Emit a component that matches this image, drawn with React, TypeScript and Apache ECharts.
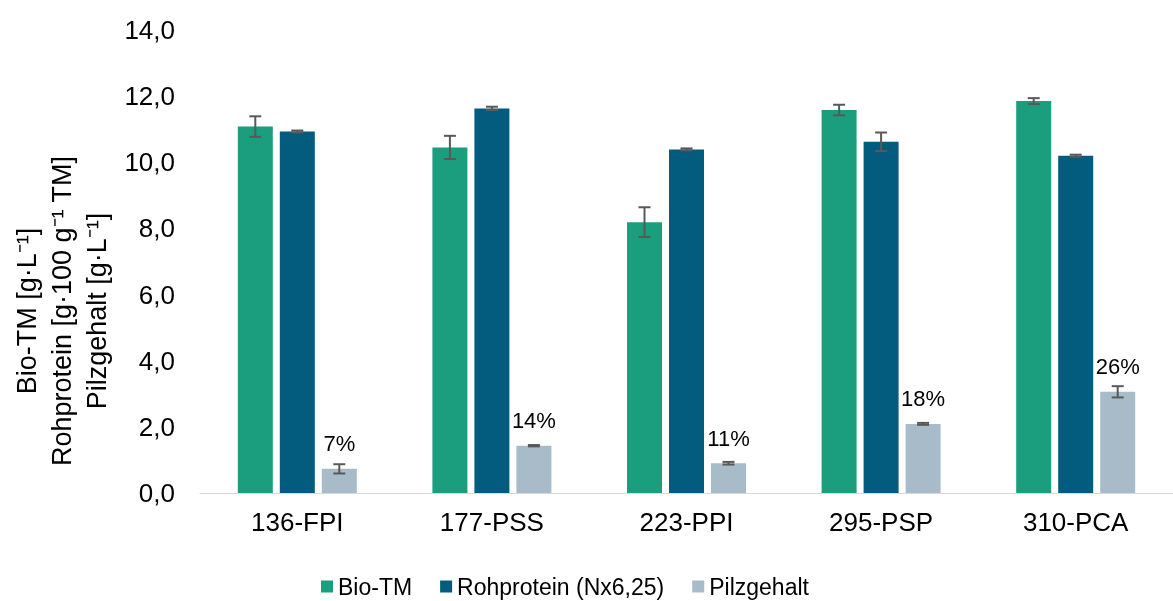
import React, { useEffect, useRef } from "react";
import * as echarts from "echarts";

const categories = ["136-FPI", "177-PSS", "223-PPI", "295-PSP", "310-PCA"];
const yTickLabels = ["0,0", "2,0", "4,0", "6,0", "8,0", "10,0", "12,0", "14,0"];
const bioTM = [11.08, 10.45, 8.19, 11.58, 11.85];
const bioTMErr = [0.31, 0.35, 0.45, 0.16, 0.09];
const rohprotein = [10.93, 11.63, 10.39, 10.62, 10.2];
const rohproteinErr = [0.03, 0.05, 0.03, 0.28, 0.03];
const pilzgehalt = [0.73, 1.43, 0.9, 2.09, 3.06];
const pilzgehaltErr = [0.14, 0.02, 0.04, 0.03, 0.17];
const pilzLabels = ["7%", "14%", "11%", "18%", "26%"];

const seriesNames = ["Bio-TM", "Rohprotein (Nx6,25)", "Pilzgehalt"];
const colors = ["#1b9e7d", "#035b7e", "#a7bcc8"];
const yTitle = "Bio-TM [g·L⁻¹]\nRohprotein [g·100 g⁻¹ TM]\nPilzgehalt [g·L⁻¹]";

const FONT = "Liberation Sans, Arial, sans-serif";
const BAR_W = 35;
const BAR_GAP = 7;

function errorSeries(values: number[], errs: number[], offset: number) {
  return {
    type: "custom",
    z: 10,
    silent: true,
    data: values.map((v, i) => [i, v, errs[i]]),
    renderItem: (params: any, api: any) => {
      const idx = api.value(0);
      const v = api.value(1);
      const e = api.value(2);
      const x = api.coord([idx, v])[0] + offset;
      const yt = api.coord([idx, v + e])[1];
      const yb = api.coord([idx, v - e])[1];
      const st = { stroke: "#595959", lineWidth: 2 };
      return {
        type: "group",
        children: [
          { type: "line", shape: { x1: x, y1: yt, x2: x, y2: yb }, style: st },
          { type: "line", shape: { x1: x - 6, y1: yt, x2: x + 6, y2: yt }, style: st },
          { type: "line", shape: { x1: x - 6, y1: yb, x2: x + 6, y2: yb }, style: st },
        ],
      };
    },
  };
}

export default function App() {
  const ref = useRef<HTMLDivElement>(null);
  useEffect(() => {
    if (!ref.current) return;
    const chart = echarts.init(ref.current, undefined, { renderer: "svg" });
    const step = BAR_W + BAR_GAP;
    chart.setOption({
      animation: false,
      textStyle: { fontFamily: FONT },
      grid: { left: 200, top: 30, width: 985, height: 463 },
      legend: {
        data: seriesNames,
        left: 316,
        top: 570,
        icon: "rect",
        itemWidth: 12,
        itemHeight: 12,
        itemGap: 28,
        textStyle: { fontSize: 23, color: "#000", fontFamily: FONT },
      },
      xAxis: {
        type: "category",
        data: categories,
        axisLine: { show: true, lineStyle: { color: "#d9d9d9", width: 1 } },
        axisTick: { show: false },
        axisLabel: { fontSize: 26, color: "#000", margin: 16, fontFamily: FONT },
      },
      yAxis: {
        type: "value",
        min: 0,
        max: 14,
        interval: 2,
        axisLine: { show: false },
        axisTick: { show: false },
        splitLine: { show: false },
        axisLabel: {
          fontSize: 26,
          color: "#000",
          margin: 25,
          fontFamily: FONT,
          formatter: (v: number) => yTickLabels[Math.round(v / 2)],
        },
      },
      graphic: [
        {
          type: "text",
          x: 62,
          y: 311,
          rotation: Math.PI / 2,
          style: {
            text: yTitle,
            fontSize: 27,
            lineHeight: 35,
            fontFamily: FONT,
            fill: "#000",
            textAlign: "center",
            textVerticalAlign: "middle",
          },
        },
      ],
      series: [
        {
          name: seriesNames[0],
          type: "bar",
          data: bioTM,
          barWidth: BAR_W,
          barGap: "20%",
          itemStyle: { color: colors[0] },
        },
        {
          name: seriesNames[1],
          type: "bar",
          data: rohprotein,
          barWidth: BAR_W,
          barGap: "20%",
          itemStyle: { color: colors[1] },
        },
        {
          name: seriesNames[2],
          type: "bar",
          data: pilzgehalt,
          barWidth: BAR_W,
          barGap: "20%",
          itemStyle: { color: colors[2] },
          label: {
            show: true,
            position: "top",
            distance: 14,
            fontSize: 22,
            color: "#000",
            fontFamily: FONT,
            formatter: (p: any) => pilzLabels[p.dataIndex],
          },
        },
        errorSeries(bioTM, bioTMErr, -step),
        errorSeries(rohprotein, rohproteinErr, 0),
        errorSeries(pilzgehalt, pilzgehaltErr, step),
      ],
    });
    return () => chart.dispose();
  }, []);
  return (
    <div
      ref={ref}
      style={{ position: "fixed", left: 0, top: 0, width: 1173, height: 601 }}
    />
  );
}
